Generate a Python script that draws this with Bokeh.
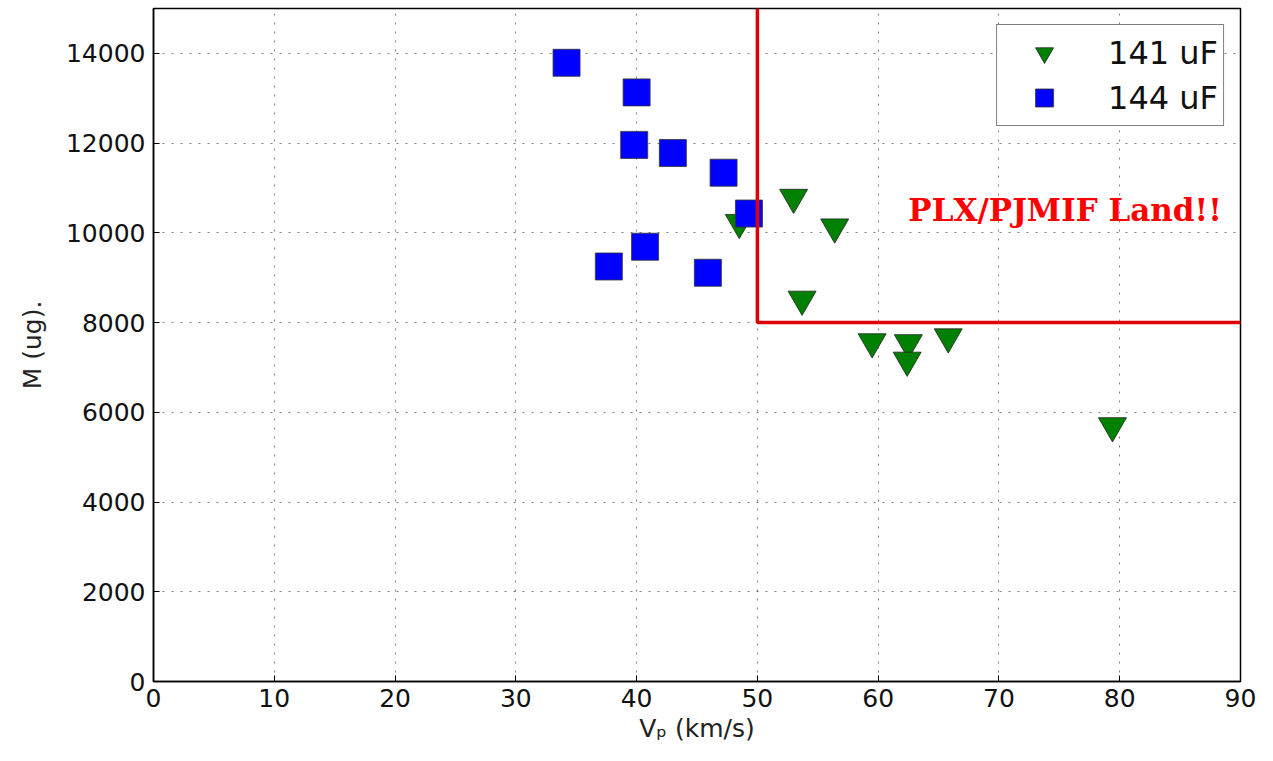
from bokeh.plotting import figure
from bokeh.models import Range1d, SingleIntervalTicker, Label
from bokeh.embed import file_html
from bokeh.resources import INLINE

# 141 uF series (green down-triangles)
v_141 = [53.0, 56.4, 53.7, 48.5, 59.5, 62.5, 62.4, 65.8, 79.4]
m_141 = [10790, 10130, 8520, 10230, 7570, 7550, 7160, 7680, 5700]

# 144 uF series (blue squares)
v_144 = [34.2, 40.0, 39.8, 43.0, 47.2, 49.3, 40.7, 37.7, 45.9]
m_144 = [13790, 13130, 11960, 11780, 11340, 10430, 9690, 9250, 9110]

# boundary of the "PLX/PJMIF Land" region
bound_v = [50, 50, 90]
bound_m = [15000, 8000, 8000]

p = figure(width=1257, height=745,
           x_range=Range1d(0, 90), y_range=Range1d(0, 15000),
           output_backend="svg", toolbar_location=None,
           min_border_left=153, min_border_right=17,
           min_border_top=8, min_border_bottom=64,
           background_fill_color="white", border_fill_color="white")

p.outline_line_color = "black"
p.outline_line_width = 1.5
p.outline_line_alpha = 1

p.xaxis.ticker = SingleIntervalTicker(interval=10)
p.yaxis.ticker = SingleIntervalTicker(interval=2000)

for ax in (p.xaxis[0], p.yaxis[0]):
    ax.major_tick_in = 6
    ax.major_tick_out = 0
    ax.minor_tick_in = 0
    ax.minor_tick_out = 0
    ax.major_tick_line_color = "black"
    ax.axis_line_color = "black"
    ax.axis_line_width = 1.5
    ax.major_label_text_font = "DejaVu Sans"
    ax.major_label_text_font_size = "25px"
    ax.major_label_text_color = "#111111"
    ax.axis_label_text_font = "DejaVu Sans"
    ax.axis_label_text_font_size = "25px"
    ax.axis_label_text_font_style = "normal"
    ax.axis_label_text_color = "#222222"

p.xaxis.axis_label = "Vₚ (km/s)"
p.yaxis.axis_label = "M (ug)."
p.xaxis.major_label_standoff = 7
p.yaxis.major_label_standoff = 8
p.xaxis.axis_label_standoff = 4
p.yaxis.axis_label_standoff = 16

for g in (p.xgrid[0], p.ygrid[0]):
    g.grid_line_color = "black"
    g.grid_line_alpha = 0.5
    g.grid_line_width = 1
    g.grid_line_dash = "2 7"

p.scatter(v_141, m_141, marker="inverted_triangle", size=28,
          fill_color="#008000", line_color="#222222", line_width=0.8,
          legend_label="141 uF")
p.scatter(v_144, m_144, marker="square", size=27,
          fill_color="#0000ff", line_color="#333333", line_width=0.8,
          legend_label="144 uF")

p.line(bound_v, bound_m, line_color="#e00000", line_width=3.5)

p.add_layout(Label(x=62.5, y=10500, text="PLX/PJMIF Land!!",
                   text_font="DejaVu Serif", text_font_style="bold",
                   text_font_size="31px", text_color="#ff0000",
                   text_baseline="alphabetic", text_align="left"))

lg = p.legend[0]
lg.location = "top_right"
lg.margin = 16
lg.padding = 5
lg.spacing = 0
lg.glyph_width = 84
lg.glyph_height = 45
lg.label_height = 45
lg.label_standoff = 22
lg.label_text_font = "DejaVu Sans"
lg.label_text_font_size = "32px"
lg.label_text_color = "#111111"
lg.border_line_color = "black"
lg.border_line_width = 1.5
lg.background_fill_color = "white"
lg.background_fill_alpha = 1

open("out.html", "w").write(file_html(p, INLINE))
